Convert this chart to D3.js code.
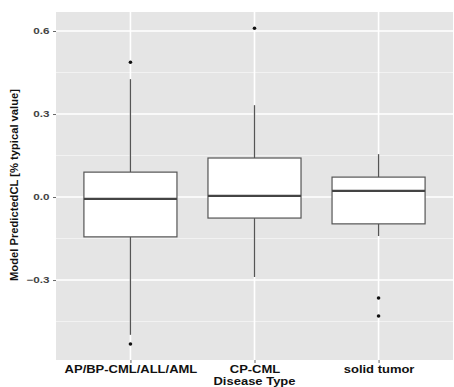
<!DOCTYPE html>
<html><head><meta charset="utf-8">
<script src="https://cdn.jsdelivr.net/npm/d3@7"></script>
<style>body{margin:0;background:#fff;} text{font-family:"Liberation Sans",Arial,sans-serif;}</style>
</head><body>
<svg id="c" width="454" height="387"></svg>
<script>
const categories = ["AP/BP-CML/ALL/AML", "CP-CML", "solid tumor"];
const lowerWhisker = [-0.498, -0.289, -0.141];
const q1 = [-0.144, -0.076, -0.097];
const median = [-0.007, 0.004, 0.022];
const q3 = [0.090, 0.141, 0.072];
const upperWhisker = [0.426, 0.332, 0.155];
const outliers = [[0.487, -0.531], [0.610], [-0.365, -0.430]];
const yTicks = [-0.3, 0.0, 0.3, 0.6];
const yMinor = [-0.45, -0.15, 0.15, 0.45];
const yTitle = "Model PredictedCL [% typical value]";
const xTitle = "Disease Type";

const svg = d3.select("#c");
const L = 56, R = 453, T = 12, B = 360;
const y = d3.scaleLinear().domain([-0.589, 0.6687]).range([B, T]);
const x = d3.scalePoint().domain(categories).range([L, R]).padding(0.6);
const step = x.step();
const bw = step * 0.75;

svg.append("rect").attr("x", L).attr("y", T).attr("width", R - L).attr("height", B - T).attr("fill", "#e5e5e5");
const g = svg.append("g");
yMinor.forEach(v => g.append("line").attr("x1", L).attr("x2", R).attr("y1", y(v)).attr("y2", y(v)).attr("stroke", "#f2f2f2").attr("stroke-width", 1));
yTicks.forEach(v => g.append("line").attr("x1", L).attr("x2", R).attr("y1", y(v)).attr("y2", y(v)).attr("stroke", "#fff").attr("stroke-width", 1.6));
categories.forEach(c => g.append("line").attr("x1", x(c)).attr("x2", x(c)).attr("y1", T).attr("y2", B).attr("stroke", "#fff").attr("stroke-width", 1.6));

categories.forEach((c, i) => {
  const cx = x(c);
  g.append("line").attr("x1", cx).attr("x2", cx).attr("y1", y(q3[i])).attr("y2", y(upperWhisker[i])).attr("stroke", "#555").attr("stroke-width", 1.3);
  g.append("line").attr("x1", cx).attr("x2", cx).attr("y1", y(q1[i])).attr("y2", y(lowerWhisker[i])).attr("stroke", "#555").attr("stroke-width", 1.3);
  g.append("rect").attr("x", cx - bw / 2).attr("y", y(q3[i])).attr("width", bw).attr("height", y(q1[i]) - y(q3[i]))
    .attr("fill", "#fff").attr("stroke", "#555").attr("stroke-width", 1.2);
  g.append("line").attr("x1", cx - bw / 2).attr("x2", cx + bw / 2).attr("y1", y(median[i])).attr("y2", y(median[i])).attr("stroke", "#444").attr("stroke-width", 2.2);
  outliers[i].forEach(v => g.append("circle").attr("cx", cx).attr("cy", y(v)).attr("r", 1.8).attr("fill", "#111"));
});

const ya = svg.append("g").attr("transform", `translate(${L},0)`)
  .call(d3.axisLeft(y).tickValues(yTicks).tickFormat(d3.format(".1f")).tickSize(3).tickPadding(3));
ya.select(".domain").remove();
ya.selectAll(".tick line").attr("stroke", "#666");
ya.selectAll(".tick text").attr("fill", "#444").attr("x", -5).attr("transform", "scale(1.3,1)")
  .style("font-size", "9px").style("font-weight", "bold").style("font-family", "Liberation Sans, Arial, sans-serif");

const xa = svg.append("g").attr("transform", `translate(0,${B})`)
  .call(d3.axisBottom(x).tickSize(3).tickPadding(3));
xa.select(".domain").remove();
xa.selectAll(".tick line").attr("stroke", "#666");
xa.selectAll(".tick text").attr("fill", "#111").attr("transform", "scale(1.3,1)")
  .style("font-size", "10px").style("font-weight", "bold").style("font-family", "Liberation Sans, Arial, sans-serif");

svg.append("text").attr("transform", `translate(${x(categories[1])},385) scale(1.3,1)`).attr("text-anchor", "middle")
  .style("font-size", "10px").style("font-weight", "bold").attr("fill", "#111").text(xTitle);
svg.append("text").attr("transform", `translate(18,${(T + B) / 2 - 1}) rotate(-90)`).attr("text-anchor", "middle")
  .style("font-size", "11.2px").style("font-weight", "bold").attr("fill", "#111").text(yTitle);
</script>
</body></html>
